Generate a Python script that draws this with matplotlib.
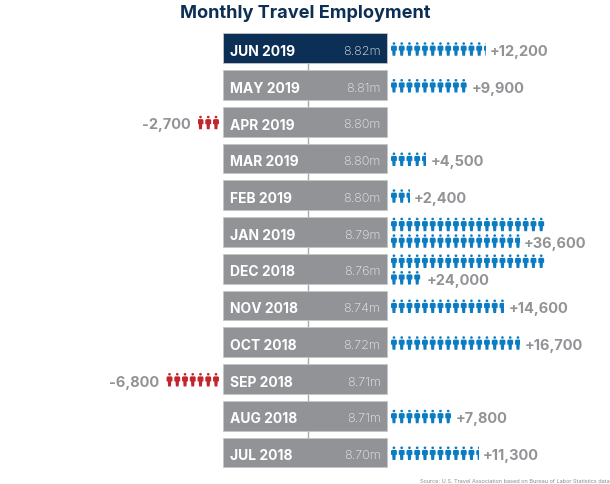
import matplotlib
matplotlib.use("Agg")
import matplotlib.pyplot as plt
from matplotlib.path import Path
from matplotlib.patches import PathPatch, Rectangle
from matplotlib.transforms import Affine2D

months = ["JUN 2019","MAY 2019","APR 2019","MAR 2019","FEB 2019","JAN 2019",
          "DEC 2018","NOV 2018","OCT 2018","SEP 2018","AUG 2018","JUL 2018"]
levels = ["8.82m","8.81m","8.80m","8.80m","8.80m","8.79m",
          "8.76m","8.74m","8.72m","8.71m","8.71m","8.70m"]
changes = [12200,9900,-2700,4500,2400,36600,24000,14600,16700,-6800,7800,11300]

NAVY="#0c2f55"; GRAY="#929396"; BLUE="#0b7cc1"; RED="#c2262c"; TXT="#929396"
plt.rcParams["font.family"]=["Inter","DejaVu Sans"]

fig=plt.figure(figsize=(6.10,4.85),dpi=100)
ax=fig.add_axes([0,0,1,1]); ax.set_xlim(0,610); ax.set_ylim(485,0); ax.axis("off")

Y0,DY=49.2,36.75
BX,BW,BH=222.7,164.7,29.6
STEP=7.75; PER=1000; WRAP=20; ICON_H=13.5; ICON_W=5.9; ROW_OFF=8.3
TEXT_DY=2.8; ICON_DY=0.8

# unit person, x in 0..1 (width), y in 0..1 (top to bottom)
body=[(0.14,0.25),(0.86,0.25),(1.0,0.33),(1.0,0.62),(0.80,0.62),(0.74,1.0),
      (0.26,1.0),(0.20,0.62),(0.0,0.62),(0.0,0.33),(0.14,0.25)]
head=Affine2D().scale(0.23,0.095).translate(0.5,0.095).transform_path(Path.unit_circle())
person=Path.make_compound_path(Path(body,closed=True),head)

def icon(x,yc,color,clip_l=None,clip_r=None):
    yc=yc+ICON_DY
    tr=Affine2D().scale(ICON_W,ICON_H).translate(x,yc-ICON_H/2)+ax.transData
    p=PathPatch(person,fc=color,ec="none",transform=tr,zorder=3)
    ax.add_patch(p)
    if clip_l is not None or clip_r is not None:
        l=clip_l if clip_l is not None else x-1
        r=clip_r if clip_r is not None else x+STEP
        p.set_clip_path(Rectangle((l,yc-ICON_H),r-l,2*ICON_H,transform=ax.transData))

ax.plot([307.5,307.5],[Y0,Y0+DY*(len(months)-1)],color="#a8a9ab",lw=1.0,zorder=1)

for i,(m,l,c) in enumerate(zip(months,levels,changes)):
    y=Y0+DY*i
    ax.add_patch(Rectangle((BX,y-BH/2),BW,BH,fc=NAVY if i==0 else GRAY,ec="#c4c5c7",lw=0.6,zorder=2))
    ax.text(BX+7.3,y+TEXT_DY,m,color="white",fontsize=10,fontweight="bold",va="center",ha="left",zorder=4)
    ax.text(380.5,y+TEXT_DY,l,color="#eeeeef",fontsize=9.1,fontweight="light",va="center",ha="right",zorder=4)
    units=abs(c)/PER
    if c>0:
        two=units>WRAP
        rows=[WRAP,units-WRAP] if two else [units]
        X0=391
        for r,n in enumerate(rows):
            yc=y+(r*2-1)*ROW_OFF if two else y
            k=0
            while k<n:
                x=X0+k*STEP
                frac=n-k
                icon(x,yc,BLUE,clip_r=x+frac*STEP if frac<1 else None)
                k+=1
        n=rows[-1]; yt=y+ROW_OFF if two else y
        end=X0+n*STEP
        ax.text(end+4.5,yt+TEXT_DY,f"+{c:,}",color=TXT,fontsize=10.5,fontweight="bold",va="center",ha="left",zorder=4)
    else:
        XR=219
        k=0
        while k<units:
            x=XR-(k+1)*STEP+1.8
            frac=units-k
            icon(x,y,RED,clip_l=XR-units*STEP if frac<1 else None)
            k+=1
        ax.text(XR-units*STEP-7,y+TEXT_DY,f"-{abs(c):,}",color=TXT,fontsize=10.5,fontweight="bold",va="center",ha="right",zorder=4)

ax.text(305.5,14,"Monthly Travel Employment",color=NAVY,fontsize=13.1,fontweight="bold",ha="center",va="center")
ax.text(610,482,"Source: U.S. Travel Association based on Bureau of Labor Statistics data",color="#8a8b8e",fontsize=4.02,ha="right",va="center")
fig.savefig("out.png",dpi=100)
